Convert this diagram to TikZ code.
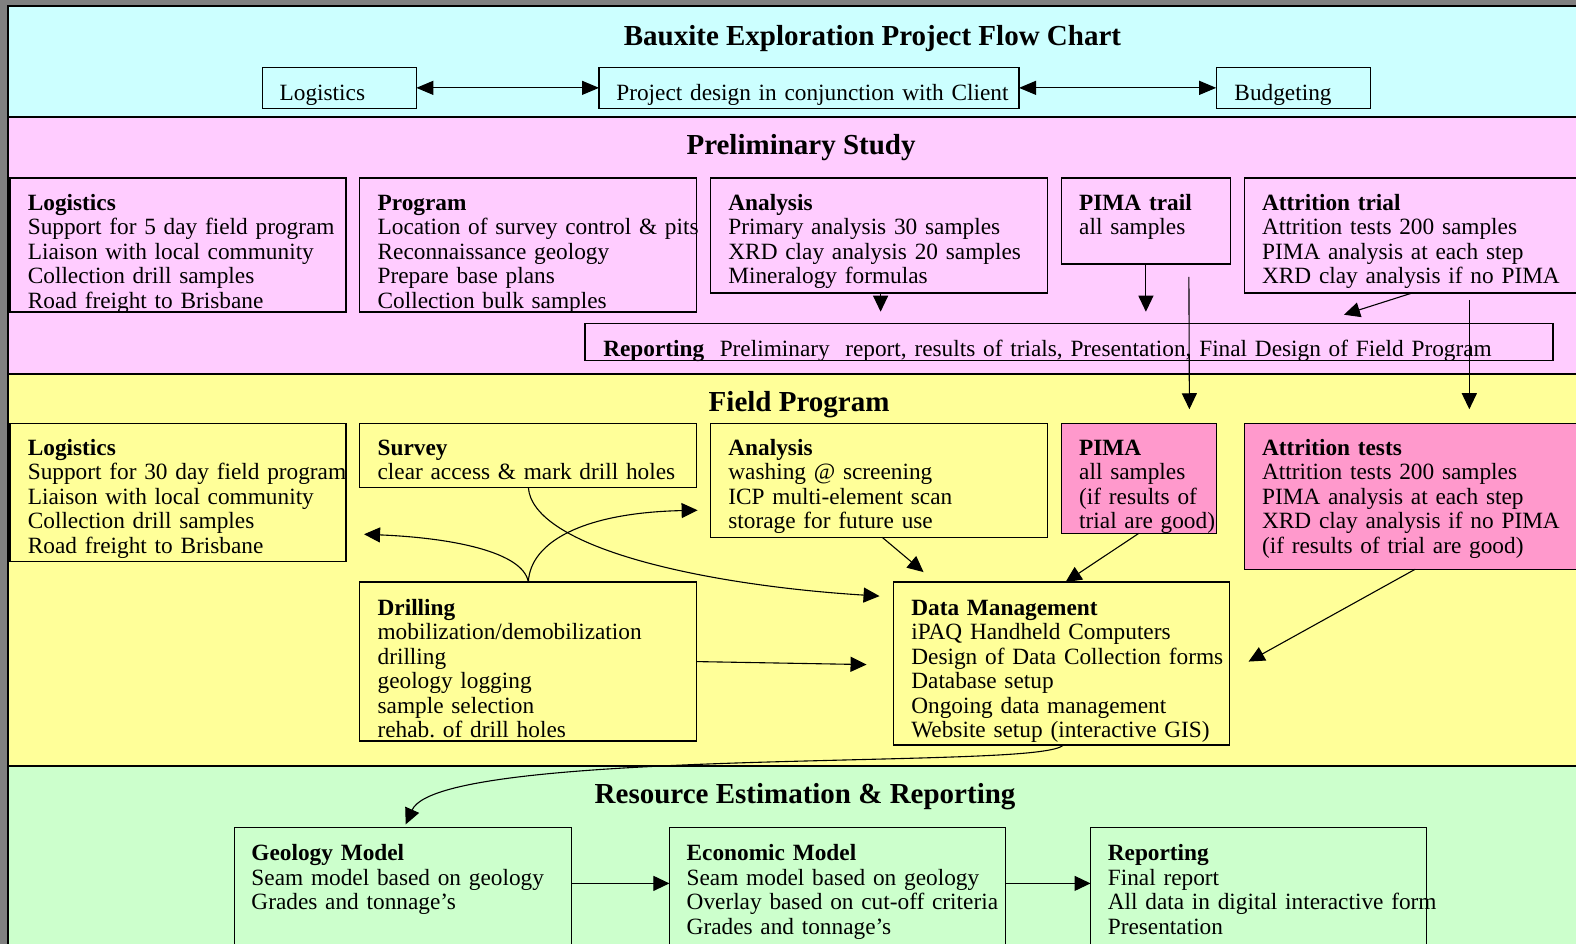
\documentclass[tikz,border=0pt]{standalone}
\usepackage{fontspec}
\setmainfont{Liberation Serif}
\usetikzlibrary{arrows.meta,calc}
\definecolor{bgray}{HTML}{808080}
\definecolor{bcyan}{HTML}{CCFFFF}
\definecolor{bpink}{HTML}{FFCCFF}
\definecolor{byellow}{HTML}{FFFF99}
\definecolor{bgreen}{HTML}{CCFFCC}
\definecolor{hpink}{HTML}{FF99CC}
\frenchspacing
\begin{document}
\begin{tikzpicture}[x=1.00510pt,y=-1.00533pt,
  box/.style={draw, line width=1.3pt, anchor=north west, inner sep=0pt, outer sep=0pt},
  txt/.style={anchor=base west, inner sep=0pt, text width=600pt, align=left, font=\fontsize{23.3}{24.5}\selectfont},
  ttl/.style={anchor=base, inner sep=0pt, font=\fontsize{29}{32}\selectfont\bfseries},
  arr/.style={-{Triangle[length=16pt,width=15pt]}, line width=1.1pt},
  darr/.style={{Triangle[length=17pt,width=14pt]}-{Triangle[length=17pt,width=14pt]}, line width=1.1pt}]
\useasboundingbox (0,0) rectangle (1568,938);
\clip (0,0) rectangle (1568,938);
% bands
\fill[bgray] (0,0) rectangle (1576,943);
\fill[bcyan] (8,6) rectangle (1580,116);
\fill[bpink] (8,116) rectangle (1580,372);
\fill[byellow] (8,372) rectangle (1580,762);
\fill[bgreen] (8,762) rectangle (1580,950);
\draw[line width=2pt] (1580,6) -- (8,6) -- (8,950);
\draw[line width=2pt] (8,116) -- (1580,116);
\draw[line width=2pt] (8,372) -- (1580,372);
\draw[line width=2pt] (8,762) -- (1580,762);
% titles
\node[ttl] (title) at (868,45) {Bauxite Exploration Project Flow Chart};
\node[ttl] (tprel) at (797,154) {Preliminary Study};
\node[ttl] (tfield) at (795,409) {Field Program};
\node[ttl] (tres) at (801,799) {Resource Estimation \& Reporting};
% top row
\node[box, minimum width=154pt, minimum height=41pt] (tlog) at (261,67) {};
\node[box, minimum width=420pt, minimum height=41pt] (tproj) at (596,67) {};
\node[box, minimum width=154pt, minimum height=41pt] (tbud) at (1210,67) {};
\node[txt] (tlogt) at ($(tlog.north west)+(17,33)$) {Logistics};
\node[txt] (tprojt) at ($(tproj.north west)+(17,33)$) {Project design in conjunction with Client};
\node[txt] (tbudt) at ($(tbud.north west)+(18,33)$) {Budgeting};
% preliminary boxes
\node[box, minimum width=336pt, minimum height=134pt] (plog) at (10,177) {};
\node[box, minimum width=337pt, minimum height=134pt] (pprog) at (358,177) {};
\node[box, minimum width=337pt, minimum height=115pt] (pana) at (707,177) {};
\node[box, minimum width=169pt, minimum height=86pt] (ptr) at (1056,177) {};
\node[box, minimum width=339pt, minimum height=115pt] (pat) at (1238,177) {};
\node[box, minimum width=968pt, minimum height=37pt] (rep) at (582,322) {};
\node[txt] (plogt) at ($(plog.north west)+(17.5,32)$) {\textbf{Logistics}\\Support for 5 day field program\\Liaison with local community\\Collection drill samples\\Road freight to Brisbane};
\node[txt] (pprogt) at ($(pprog.north west)+(17.5,32)$) {\textbf{Program}\\Location of survey control \& pits\\Reconnaissance geology\\Prepare base plans\\Collection bulk samples};
\node[txt] (panat) at ($(pana.north west)+(17.5,32)$) {\textbf{Analysis}\\Primary analysis 30 samples\\XRD clay analysis 20 samples\\Mineralogy formulas};
\node[txt] (ptrt) at ($(ptr.north west)+(17.5,32)$) {\textbf{PIMA trail}\\all samples};
\node[txt] (patt) at ($(pat.north west)+(17.5,32)$) {\textbf{Attrition trial}\\Attrition tests 200 samples\\PIMA analysis at each step\\XRD clay analysis if no PIMA};
\node[txt, text width=1000pt] (rept) at ($(rep.north west)+(18,33)$) {\textbf{Reporting}~ Preliminary~ report, results of trials, Presentation, Final Design of Field Program};
% field boxes
\node[box, fill=byellow, minimum width=336pt, minimum height=138pt] (flog) at (10,421) {};
\node[box, fill=byellow, minimum width=337pt, minimum height=64pt] (fsur) at (358,421) {};
\node[box, fill=byellow, minimum width=337pt, minimum height=114pt] (fana) at (707,421) {};
\node[box, fill=hpink, minimum width=155pt, minimum height=110pt] (fpima) at (1056,421) {};
\node[box, fill=hpink, minimum width=345pt, minimum height=146pt] (fat) at (1238,421) {};
\node[box, fill=byellow, minimum width=337pt, minimum height=159pt] (drl) at (358,579) {};
\node[box, fill=byellow, minimum width=336pt, minimum height=163pt] (dm) at (889,579) {};
\node[txt] (flogt) at ($(flog.north west)+(17.5,32)$) {\textbf{Logistics}\\Support for 30 day field program\\Liaison with local community\\Collection drill samples\\Road freight to Brisbane};
\node[txt] (fsurt) at ($(fsur.north west)+(17.5,32)$) {\textbf{Survey}\\clear access \& mark drill holes};
\node[txt] (fanat) at ($(fana.north west)+(17.5,32)$) {\textbf{Analysis}\\washing @ screening\\ICP multi-element scan\\storage for future use};
\node[txt] (fpimat) at ($(fpima.north west)+(17.5,32)$) {\textbf{PIMA}\\all samples\\(if results of\\trial are good)};
\node[txt] (fatt) at ($(fat.north west)+(17.5,32)$) {\textbf{Attrition tests}\\Attrition tests 200 samples\\PIMA analysis at each step\\XRD clay analysis if no PIMA\\(if results of trial are good)};
\node[txt] (drlt) at ($(drl.north west)+(17.5,33)$) {\textbf{Drilling}\\mobilization/demobilization\\drilling\\geology logging\\sample selection\\rehab. of drill holes};
\node[txt] (dmt) at ($(dm.north west)+(17.5,33)$) {\textbf{Data Management}\\iPAQ Handheld Computers\\Design of Data Collection forms\\Database setup\\Ongoing data management\\Website setup (interactive GIS)};
% green boxes
\node[box, minimum width=337pt, minimum height=130pt] (geo) at (233,823) {};
\node[box, minimum width=336pt, minimum height=130pt] (eco) at (666,823) {};
\node[box, minimum width=336pt, minimum height=130pt] (rpt) at (1085,823) {};
\node[txt] (geot) at ($(geo.north west)+(17,33)$) {\textbf{Geology Model}\\Seam model based on geology\\Grades and tonnage's};
\node[txt] (ecot) at ($(eco.north west)+(17,33)$) {\textbf{Economic Model}\\Seam model based on geology\\Overlay based on cut-off criteria\\Grades and tonnage's};
\node[txt] (rptt) at ($(rpt.north west)+(17,33)$) {\textbf{Reporting}\\Final report\\All data in digital interactive form\\Presentation};
% top arrows
\draw[darr] (tlog.east) -- (tproj.west);
\draw[darr] (tproj.east) -- (tbud.west);
% preliminary arrows
\draw[arr] ([xshift=1.5pt]pana.south) -- ([xshift=1.5pt,yshift=12pt]pana.south |- rep.north);
\draw[arr] (ptr.south) -- ([yshift=12pt]ptr.south |- rep.north);
\draw[arr] ([xshift=168pt]pat.south west) -- ([xshift=759pt,yshift=9pt]rep.north west);
\draw[arr] ([xshift=43pt,yshift=-13pt]ptr.south) -- ([xshift=128pt,yshift=14pt]fpima.north west);
\draw[arr] ([xshift=225pt,yshift=-7pt]pat.south west) -- ([xshift=225pt,yshift=14pt]fat.north west);
% field arrows
\draw[arr] (drl.north) .. controls ($(drl.north)+(-5,-30)$) and (450,535) .. ([xshift=18pt,yshift=-42pt]flog.north east |- flog.east);
\draw[arr] (drl.north) .. controls ($(drl.north)+(2,-40)$) and (580,510) .. ([xshift=-13pt,yshift=-87pt]fana.north west);
\draw[arr] (fsur.south) .. controls ($(fsur.south)+(4,60)$) and (700,582) .. ([xshift=-14pt,yshift=-14pt]dm.north west);
\draw[arr] ([xshift=3pt]fana.south) -- ([xshift=30pt,yshift=10pt]dm.north west);
\draw[arr] (fpima.south) -- ([xshift=172pt]dm.north west);
\draw[arr] (fat.south west) ++(170,0) coordinate (fatb) (fatb) -- ([xshift=19pt,yshift=2pt]dm.east);
\draw[arr] (drl.east) -- ([xshift=-27pt,yshift=-1pt]dm.west);
\draw[arr] ([xshift=170pt]dm.south west) .. controls (1046,752) and (950,753) .. (800,757)
   .. controls (600,762) and (425,772) .. ([xshift=3pt,yshift=3pt]geo.north);
% green arrows
\draw[arr] ([yshift=-56pt]geo.north east) -- ([yshift=-56pt]eco.north west);
\draw[arr] ([yshift=-56pt]eco.north east) -- ([yshift=-56pt]rpt.north west);
\end{tikzpicture}
\end{document}
